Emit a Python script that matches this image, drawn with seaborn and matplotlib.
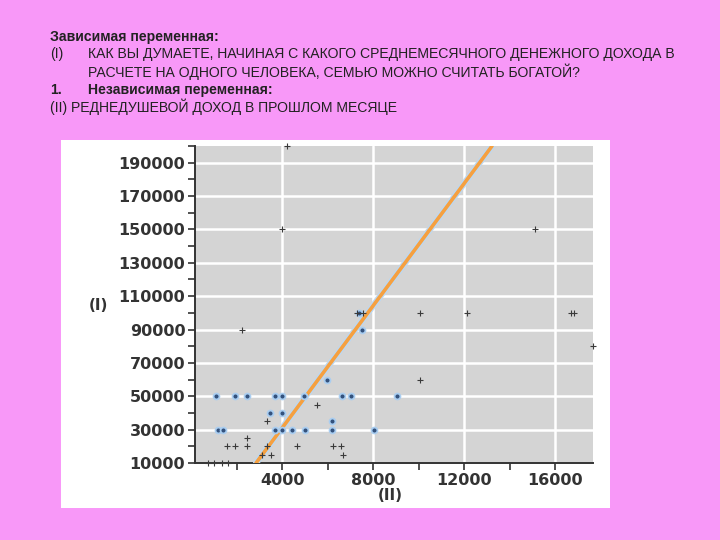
import pandas as pd
import seaborn as sns
import matplotlib.pyplot as plt
from matplotlib.patches import Rectangle
from matplotlib.ticker import MultipleLocator

# income last month (II) vs "rich family" threshold (I)
dot_x = [1072, 1921, 2435, 3679, 4000, 4954, 6637, 7007, 9055,
         3459, 4000,
         1160, 1406, 3679, 4000, 4440, 4998, 6198, 8044,
         6198, 5952, 7385, 7504]
dot_y = [50000, 50000, 50000, 50000, 50000, 50000, 50000, 50000, 50000,
         40000, 40000,
         30000, 30000, 30000, 30000, 30000, 30000, 30000, 30000,
         35000, 60000, 100000, 90000]

plus_x = [4193, 4000, 15109, 2215, 7270, 7560, 10053, 12106, 16700, 16820,
          17672, 10053, 5512, 3314, 2435,
          1556, 1921, 2435, 3314, 4633, 6242, 6580,
          3094, 3503, 6681,
          747, 1011, 1336, 1626]
plus_y = [200000, 150000, 150000, 90000, 100000, 100000, 100000, 100000, 100000, 100000,
          80000, 60000, 45000, 35000, 25000,
          20000, 20000, 20000, 20000, 20000, 20000, 20000,
          15000, 15000, 15000,
          10000, 10000, 10000, 10000]

# fitted line shown on the chart
line_slope = 18.31
line_intercept = -42074

x_ticks = [4000, 8000, 12000, 16000]
y_ticks = list(range(10000, 200000, 20000))

header_lines = [
    ("Зависимая переменная:", 50, 37, "bold"),
    ("(I)", 50, 54, "normal"),
    ("КАК ВЫ ДУМАЕТЕ, НАЧИНАЯ С КАКОГО СРЕДНЕМЕСЯЧНОГО ДЕНЕЖНОГО ДОХОДА В", 88, 54, "normal"),
    ("РАСЧЕТЕ НА ОДНОГО ЧЕЛОВЕКА, СЕМЬЮ МОЖНО СЧИТАТЬ БОГАТОЙ?", 88, 72, "normal"),
    ("1.", 50, 90, "bold"),
    ("Независимая переменная:", 88, 90, "bold"),
    ("(II) РЕДНЕДУШЕВОЙ ДОХОД В ПРОШЛОМ МЕСЯЦЕ", 50, 107, "normal"),
]

sns.set_theme(style="darkgrid")
plt.rcParams["font.family"] = ["Liberation Sans", "DejaVu Sans"]

W, H = 720, 540
fig = plt.figure(figsize=(7.2, 5.4), dpi=100, facecolor="#F898F8")

# white panel behind the chart
fig.patches.append(Rectangle((61 / W, 1 - 508 / H), 549 / W, 368 / H,
                             transform=fig.transFigure, facecolor="white",
                             edgecolor="none", zorder=-1))

for text, px, py, weight in header_lines:
    fig.text(px / W, 1 - py / H, text, fontsize=10.1, fontweight=weight,
             color="#222222", ha="left", va="center")

ax = fig.add_axes([195 / W, 1 - 463 / H, (593 - 195) / W, (463 - 146) / H])
ax.set_zorder(1)
ax.set_facecolor("#D4D4D4")

dots = pd.DataFrame({"x": dot_x, "y": dot_y})
pluses = pd.DataFrame({"x": plus_x, "y": plus_y})

sns.scatterplot(data=dots, x="x", y="y", ax=ax, marker="o", s=18,
                color="#34527d", edgecolor="#a9cdf0", linewidth=1.3,
                clip_on=False, zorder=4)
sns.scatterplot(data=pluses, x="x", y="y", ax=ax, marker="+", s=18,
                color="#3a3a3a", linewidth=0.8, clip_on=False, zorder=4)

ax.axline((0, line_intercept), slope=line_slope, color="#bcd8f2",
          linewidth=4.5, zorder=3)
ax.axline((0, line_intercept), slope=line_slope, color="#F5A040",
          linewidth=2.6, zorder=3)

ax.set_xlim(160, 17660)
ax.set_ylim(10000, 200000)
ax.set_xticks(x_ticks)
ax.set_yticks(y_ticks)
ax.xaxis.set_minor_locator(MultipleLocator(2000))
ax.yaxis.set_minor_locator(MultipleLocator(10000))
ax.grid(True, which="major", color="white", linewidth=1.8)
ax.grid(False, which="minor")

for side in ["top", "right"]:
    ax.spines[side].set_visible(False)
for side in ["left", "bottom"]:
    ax.spines[side].set_visible(True)
    ax.spines[side].set_color("#333333")
    ax.spines[side].set_linewidth(1.4)

ax.tick_params(which="both", direction="out", length=5, width=1.2,
               color="#333333", left=True, bottom=True)
ax.tick_params(which="major", labelsize=11.5, labelcolor="#333333", pad=2)
for lab in ax.get_xticklabels() + ax.get_yticklabels():
    lab.set_fontweight("bold")
    lab.set_family("DejaVu Sans")

ax.set_xlabel("")
ax.set_ylabel("")
fig.text(98 / W, 1 - 305 / H, "(I)", fontsize=11, fontweight="bold",
         family="DejaVu Sans", color="#333333", ha="center", va="center")
fig.text(390 / W, 1 - 496 / H, "(II)", fontsize=11, fontweight="bold",
         family="DejaVu Sans", color="#333333", ha="center", va="center")

fig.savefig("out.png", dpi=100, facecolor=fig.get_facecolor())
